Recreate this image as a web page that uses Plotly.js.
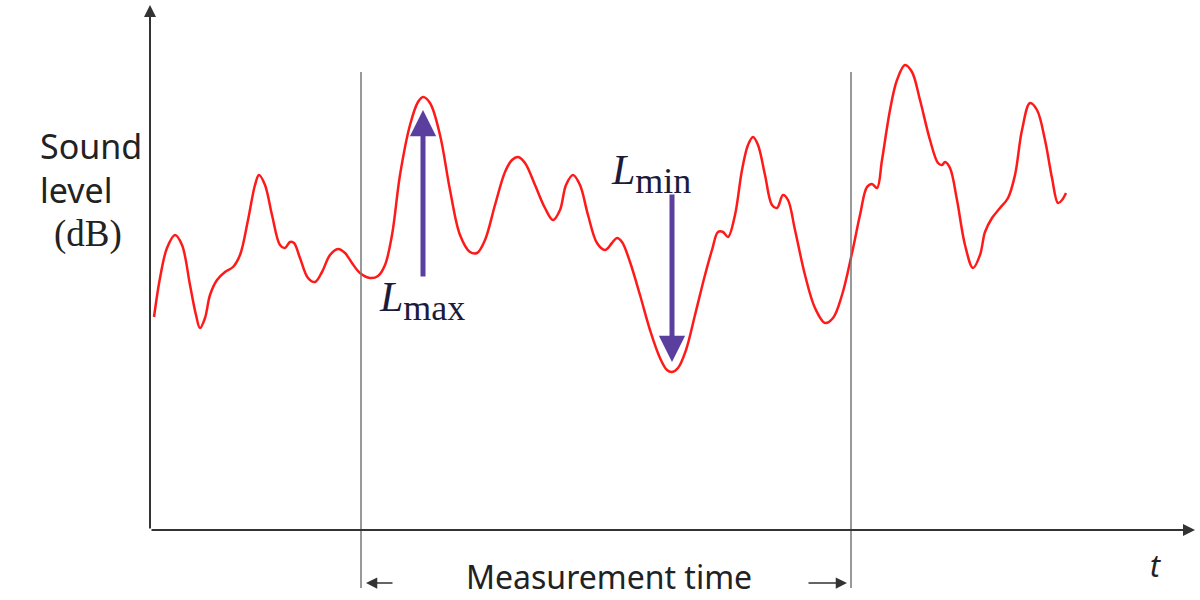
<!DOCTYPE html>
<html>
<head>
<meta charset="utf-8">
<script src="https://cdn.plot.ly/plotly-3.0.1.min.js"></script>
<style>html,body{margin:0;padding:0;background:#fff;}#chart{width:1200px;height:600px;}</style>
</head>
<body>
<div id="chart"></div>
<script>
// time (arbitrary units) and sound level (arbitrary units, above the time axis)
const t = [4,10,17,25,32,40,46,50,55,60,67,75,83,90,98,105,109,115,122,130,135,140,144,150,158,165,172,180,188,195,202,210,220,228,235,242,250,260,268,273,280,290,300,310,320,327,335,345,355,362,368,375,385,395,403,410,416,423,430,438,447,455,462,467,472,480,490,500,510,517,522,528,536,545,555,562,568,573,578,585,592,598,603,608,615,622,627,633,638,645,655,665,675,683,692,702,710,717,722,727,732,740,747,755,762,770,780,788,792,795,800,807,815,823,830,835,842,850,858,865,872,880,887,895,902,908,912,916];
const level = [213,252,282,295,285,245,215,202,212,235,250,258,263,275,310,345,355,345,315,285,282,288,287,272,252,248,258,275,281,277,267,257,252,254,265,295,355,405,428,433,427,395,340,295,278,277,290,325,358,370,373,367,345,322,310,320,345,355,345,315,287,280,287,292,288,268,235,200,172,160,158,162,180,215,255,280,298,298,293,315,360,385,393,385,355,325,322,335,330,300,255,222,207,212,235,277,315,343,346,342,370,420,450,465,458,430,390,367,365,368,362,330,285,262,275,298,312,322,332,355,400,427,420,390,352,327,330,337];
const measureStart = 211, measureEnd = 701;
const lmaxT = 273, lmaxTail = 252, lmaxTip = 420;
const lminT = 522, lminTail = 337, lminTip = 168;

const axisColor = '#333333';
const guideColor = '#777777';
const arrowColor = '#5b3f9e';
const labelColor = '#1c1c3a';

const data = [{
  x: t, y: level, type: 'scatter', mode: 'lines',
  line: {color: '#ff1a1a', width: 2.5, shape: 'spline', smoothing: 1},
  hoverinfo: 'skip'
}];

const shapes = [
  {type:'line', xref:'x', yref:'y', x0:measureStart, x1:measureStart, y0:-58, y1:458, line:{color:guideColor, width:1.5}},
  {type:'line', xref:'x', yref:'y', x0:measureEnd, x1:measureEnd, y0:-58, y1:458, line:{color:guideColor, width:1.5}}
];

const annotations = [
  // axes
  {x:0, y:525, ax:0, ay:0, xref:'x', yref:'y', axref:'x', ayref:'y', showarrow:true, arrowhead:2, arrowsize:1.2, arrowwidth:2, arrowcolor:axisColor, text:''},
  {x:1045, y:0, ax:0, ay:0, xref:'x', yref:'y', axref:'x', ayref:'y', showarrow:true, arrowhead:2, arrowsize:1.2, arrowwidth:2, arrowcolor:axisColor, text:''},
  // measurement time arrows
  {x:measureStart+5, y:-53, ax:measureStart+33, ay:-53, xref:'x', yref:'y', axref:'x', ayref:'y', showarrow:true, arrowhead:2, arrowsize:1.5, arrowwidth:1.5, arrowcolor:axisColor, text:''},
  {x:measureEnd-4, y:-53, ax:measureEnd-44, ay:-53, xref:'x', yref:'y', axref:'x', ayref:'y', showarrow:true, arrowhead:2, arrowsize:1.5, arrowwidth:1.5, arrowcolor:axisColor, text:''},
  {x:(measureStart+measureEnd)/2 + 3, y:-46, xref:'x', yref:'y', showarrow:false, borderpad:0, text:'Measurement time', font:{family:'Noto Sans', size:32, color:'#222'}},
  {x:1005, y:-35, xref:'x', yref:'y', showarrow:false, text:'<i>t</i>', font:{family:'Noto Sans', size:30, color:'#222'}},
  // y label
  {x:38/1200, y:384, xref:'paper', xanchor:'left', yref:'y', showarrow:false, text:'Sound', font:{family:'Noto Sans', size:34, color:'#222'}},
  {x:38/1200, y:340, xref:'paper', xanchor:'left', yref:'y', showarrow:false, text:'level', font:{family:'Noto Sans', size:34, color:'#222'}},
  {x:-62, y:296, xref:'x', yref:'y', showarrow:false, text:'(dB)', font:{family:'Liberation Serif', size:37, color:'#222'}},
  // Lmax / Lmin arrows
  {x:lmaxT, y:lmaxTip, ax:lmaxT, ay:lmaxTail, xref:'x', yref:'y', axref:'x', ayref:'y', showarrow:true, arrowhead:2, arrowsize:1.05, arrowwidth:5, arrowcolor:arrowColor, text:''},
  {x:lminT, y:lminTip, ax:lminT, ay:lminTail, xref:'x', yref:'y', axref:'x', ayref:'y', showarrow:true, arrowhead:2, arrowsize:1.05, arrowwidth:5, arrowcolor:arrowColor, text:''},
  {x:272, y:229, xref:'x', yref:'y', showarrow:false, text:'<i>L</i><sub><span style="font-size:36px">max</span></sub>', font:{family:'Liberation Serif', size:42, color:labelColor}},
  {x:501, y:356, xref:'x', yref:'y', showarrow:false, text:'<i>L</i><sub><span style="font-size:36px">min</span></sub>', font:{family:'Liberation Serif', size:42, color:labelColor}}
];

const layout = {
  width:1200, height:600,
  margin:{l:0, r:0, t:0, b:0},
  paper_bgcolor:'#ffffff', plot_bgcolor:'#ffffff',
  showlegend:false,
  xaxis:{range:[-150,1050], showgrid:false, zeroline:false, showticklabels:false, ticks:'', showline:false, fixedrange:true},
  yaxis:{range:[-70,530], showgrid:false, zeroline:false, showticklabels:false, ticks:'', showline:false, fixedrange:true},
  shapes: shapes,
  annotations: annotations
};

Plotly.newPlot('chart', data, layout, {displayModeBar:false, staticPlot:true});
</script>
</body>
</html>
